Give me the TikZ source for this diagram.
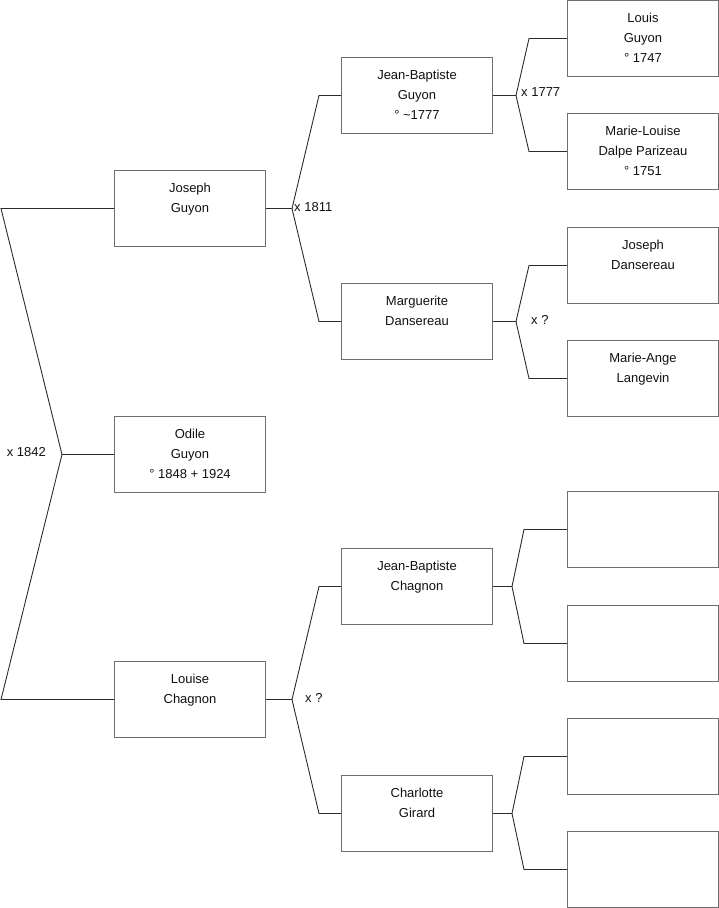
\documentclass[tikz,border=0pt]{standalone}
\usepackage{fontspec}
\setmainfont{Liberation Sans}
\usepackage{tikz}
\usetikzlibrary{positioning}
\definecolor{Ink}{HTML}{111111}
\definecolor{Frame}{HTML}{6E6E6E}
\definecolor{Wire}{HTML}{2B2B2B}
\newcommand{\who}[1]{\parbox[c][76pt][t]{151pt}{\centering\fontsize{13pt}{20pt}\selectfont\rule{0pt}{21.5pt}#1}}
\tikzset{
  person/.style={draw=Frame,line width=1pt,inner sep=0pt,anchor=north west,fill=white,text=Ink},
  wire/.style={draw=Wire,line width=0.9pt,line join=miter},
  wed/.style={font=\fontsize{13pt}{15pt}\selectfont,text=Ink,inner sep=0pt}
}
\begin{document}
\begin{tikzpicture}[x=1pt,y=-1pt]
\useasboundingbox (0,0) rectangle (719,908);
% generation 1 and 2
\node[person] (odile) at (114,416) {\who{Odile\\Guyon\\° 1848 + 1924}};
\node[person] (joseph) at (114,170) {\who{Joseph\\Guyon}};
\node[person] (louise) at (114,661) {\who{Louise\\Chagnon}};
% generation 3
\node[person] (jbguyon) at (341,57) {\who{Jean-Baptiste\\Guyon\\° \textasciitilde1777}};
\node[person] (marguerite) at (341,283) {\who{Marguerite\\Dansereau}};
\node[person] (jbchagnon) at (341,548) {\who{Jean-Baptiste\\Chagnon}};
\node[person] (charlotte) at (341,775) {\who{Charlotte\\Girard}};
% generation 4
\node[person] (louis) at (567,0) {\who{Louis\\Guyon\\° 1747}};
\node[person] (marielouise) at (567,113) {\who{Marie-Louise\\Dalpe Parizeau\\° 1751}};
\node[person] (josephd) at (567,227) {\who{Joseph\\Dansereau}};
\node[person] (marieange) at (567,340) {\who{Marie-Ange\\Langevin}};
\node[person] (blank1) at (567,491) {\who{}};
\node[person] (blank2) at (567,605) {\who{}};
\node[person] (blank3) at (567,718) {\who{}};
\node[person] (blank4) at (567,831) {\who{}};

% forks
\coordinate (fodile) at ([xshift=-52pt]odile.west);
\coordinate (jend) at ([xshift=-113pt]joseph.west);
\coordinate (lend) at ([xshift=-113pt]louise.west);
\draw[wire] (odile.west)--(fodile);
\draw[wire] (joseph.west)--(jend)--(fodile)--(lend)--(louise.west);
\node[wed,anchor=east] (m1842) at ([xshift=-16pt,yshift=2pt]fodile) {x 1842};

\coordinate (fjoseph) at ([xshift=26pt]joseph.east);
\coordinate (jbgend) at ([xshift=-22pt]jbguyon.west);
\coordinate (margend) at ([xshift=-22pt]marguerite.west);
\draw[wire] (joseph.east)--(fjoseph);
\draw[wire] (jbguyon.west)--(jbgend)--(fjoseph)--(margend)--(marguerite.west);
\node[wed,anchor=west] (m1811) at ([xshift=2pt,yshift=1pt]fjoseph) {x 1811};

\coordinate (flouise) at ([xshift=26pt]louise.east);
\coordinate (jbcend) at ([xshift=-22pt]jbchagnon.west);
\coordinate (charend) at ([xshift=-22pt]charlotte.west);
\draw[wire] (louise.east)--(flouise);
\draw[wire] (jbchagnon.west)--(jbcend)--(flouise)--(charend)--(charlotte.west);
\node[wed,anchor=west] (mlouise) at ([xshift=13pt,yshift=2pt]flouise) {x ?};

\coordinate (fjbg) at ([xshift=23pt]jbguyon.east);
\coordinate (louend) at ([xshift=-38pt]louis.west);
\coordinate (mlend) at ([xshift=-38pt]marielouise.west);
\draw[wire] (jbguyon.east)--(fjbg);
\draw[wire] (louis.west)--(louend)--(fjbg)--(mlend)--(marielouise.west);
\node[wed,anchor=west] (m1777) at ([xshift=5pt,yshift=3pt]fjbg) {x 1777};

\coordinate (fmarg) at ([xshift=23pt]marguerite.east);
\coordinate (jdend) at ([xshift=-38pt]josephd.west);
\coordinate (maend) at ([xshift=-38pt]marieange.west);
\draw[wire] (marguerite.east)--(fmarg);
\draw[wire] (josephd.west)--(jdend)--(fmarg)--(maend)--(marieange.west);
\node[wed,anchor=west] (mmarg) at ([xshift=15pt,yshift=2pt]fmarg) {x ?};

\coordinate (fjbc) at ([xshift=19pt]jbchagnon.east);
\coordinate (b1end) at ([xshift=-43pt]blank1.west);
\coordinate (b2end) at ([xshift=-43pt]blank2.west);
\draw[wire] (jbchagnon.east)--(fjbc);
\draw[wire] (blank1.west)--(b1end)--(fjbc)--(b2end)--(blank2.west);

\coordinate (fchar) at ([xshift=19pt]charlotte.east);
\coordinate (b3end) at ([xshift=-43pt]blank3.west);
\coordinate (b4end) at ([xshift=-43pt]blank4.west);
\draw[wire] (charlotte.east)--(fchar);
\draw[wire] (blank3.west)--(b3end)--(fchar)--(b4end)--(blank4.west);
\end{tikzpicture}
\end{document}
